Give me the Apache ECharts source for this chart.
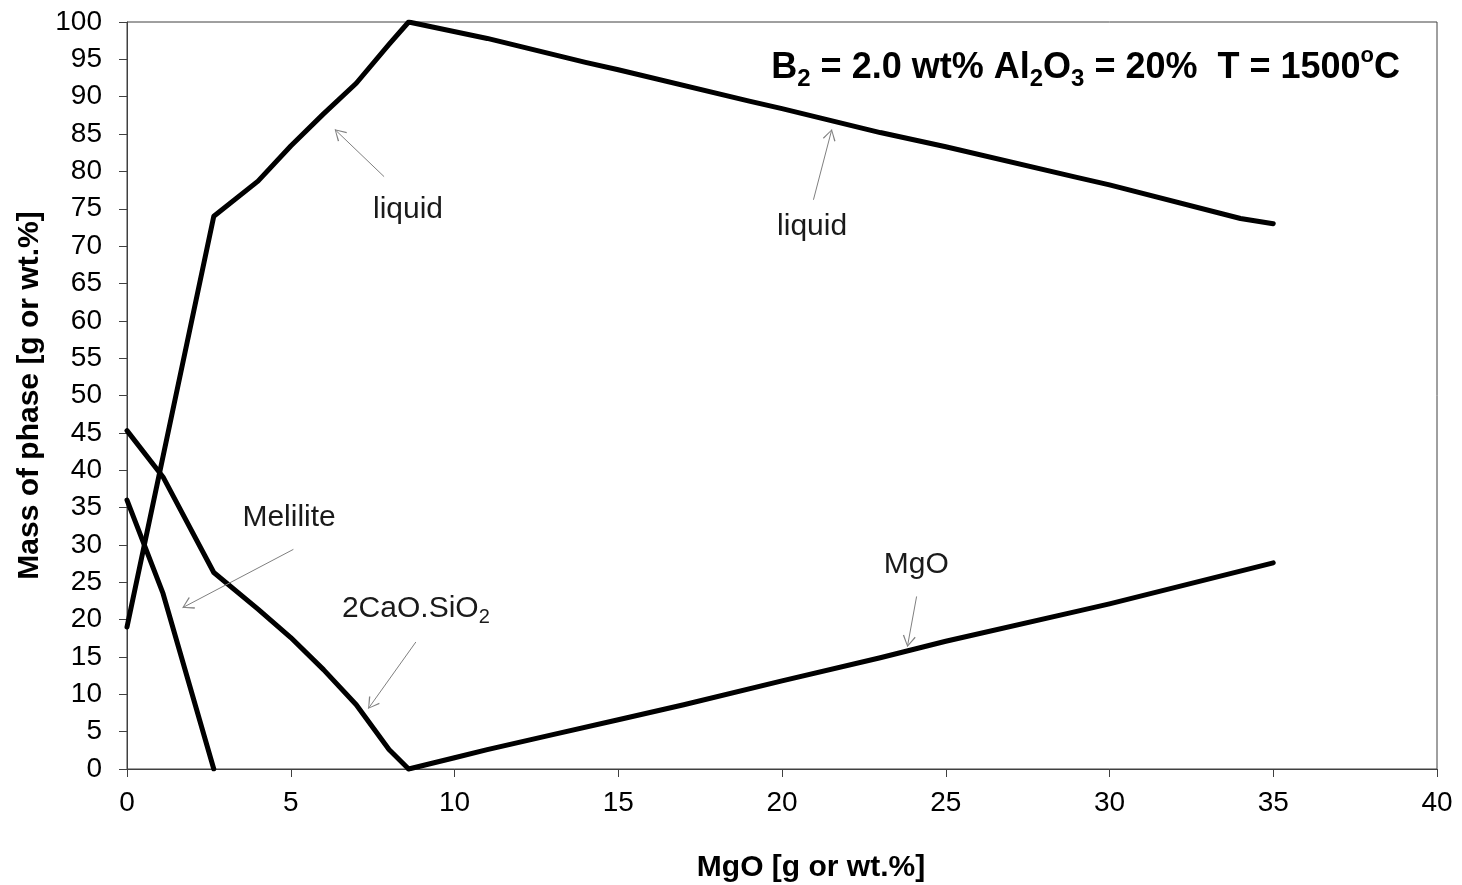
<!DOCTYPE html>
<html><head><meta charset="utf-8">
<script src="https://cdn.jsdelivr.net/npm/echarts@6/dist/echarts.min.js"></script>
<style>html,body{margin:0;padding:0;background:#fff}#c{width:1462px;height:885px}</style>
</head><body><div id="c"></div>
<script>
// ---- data ----
const liquidX = [0, 2.65, 4, 5, 6, 7, 8, 8.6, 11, 14, 15, 19, 20, 23, 25, 29, 30, 34, 35];
const liquidY = [19, 74, 78.7, 83.4, 87.7, 91.8, 97.0, 100, 97.8, 94.6, 93.6, 89.4, 88.4, 85.2, 83.3, 79.2, 78.2, 73.7, 73];
const meliliteX = [0, 1.1, 2.65];
const meliliteY = [36, 23.5, 0];
const c2sX = [0, 1.1, 2.65, 4, 5, 6, 7, 8, 8.6];
const c2sY = [45.3, 39.1, 26.3, 21.4, 17.6, 13.3, 8.6, 2.6, 0];
const mgoX = [8.6, 10, 11, 13, 15, 17, 20, 23, 25, 29, 30, 35];
const mgoY = [0, 1.5, 2.6, 4.6, 6.6, 8.6, 11.8, 14.9, 17.1, 21.1, 22.1, 27.6];

const xMin = 0, xMax = 40, xStep = 5;
const yMin = 0, yMax = 100, yStep = 5;

const titleText = 'B{sub|2} = 2.0 wt% Al{sub|2}O{sub|3} = 20%  T = 1500{sup|o}C';
const xName = 'MgO [g or wt.%]';
const yName = 'Mass of phase [g or wt.%]';

// annotation labels and arrows (data coordinates)
const labelTexts = ['liquid', 'liquid', 'Melilite', '2CaO.SiO{s|2}', 'MgO'];
const labelX = [8.58, 20.92, 4.95, 8.82, 24.1];
const labelY = [74.9, 72.6, 33.6, 21.5, 27.3];
const arrowFromX = [7.85, 20.96, 5.08, 8.82, 24.11];
const arrowFromY = [79.3, 76.2, 29.4, 17.0, 23.1];
const arrowToX = [6.35, 21.52, 1.70, 7.37, 23.83];
const arrowToY = [85.6, 85.6, 21.6, 8.1, 16.4];

// ---- chart ----
const zip = (xs, ys) => xs.map((x, i) => [x, ys[i]]);
const AXIS = '#404040';
const FONT = '"Liberation Sans", Arial, sans-serif';
const TXT = '#1a1a1a';
const chevron = 'path://M0,-10L0.01,-10L0,-9.99Z M0,0 L6,10 L5,10.8 L0,1.6 L-5,10.8 L-6,10 Z';

const lineSeries = (name, xs, ys) => ({
  name, type: 'line', data: zip(xs, ys), showSymbol: false, symbol: 'none',
  lineStyle: { color: '#000', width: 5, cap: 'round', join: 'round' }, z: 3
});

const chart = echarts.init(document.getElementById('c'), null, { renderer: 'canvas' });
chart.setOption({
  animation: false,
  backgroundColor: '#fff',
  title: {
    text: titleText, right: 57, top: 40,
    textStyle: {
      rich: {
        sub: { fontSize: 24, fontWeight: 'bold', fontFamily: FONT, color: '#000', verticalAlign: 'bottom', lineHeight: 24 },
        sup: { fontSize: 22, fontWeight: 'bold', fontFamily: FONT, color: '#000', verticalAlign: 'top', lineHeight: 22 }
      },
      fontSize: 36, fontWeight: 'bold', fontFamily: FONT, color: '#000', lineHeight: 46
    }
  },
  grid: { left: 127, top: 22, right: 25, bottom: 116, show: true, borderColor: AXIS, borderWidth: 1,
          containLabel: false, outerBoundsMode: 'none' },
  xAxis: {
    type: 'value', min: xMin, max: xMax, interval: xStep,
    name: xName, nameLocation: 'middle', nameGap: 84,
    nameTextStyle: { fontFamily: FONT, fontWeight: 'bold', fontSize: 30, color: '#000', padding: [0, 0, 0, 58] },
    axisLine: { show: true, lineStyle: { color: AXIS, width: 1 } },
    axisTick: { show: true, inside: false, length: 8, lineStyle: { color: AXIS } },
    axisLabel: { fontFamily: FONT, fontSize: 28, color: '#000', margin: 20 },
    splitLine: { show: false }
  },
  yAxis: {
    type: 'value', min: yMin, max: yMax, interval: yStep,
    name: yName, nameLocation: 'middle', nameGap: 81, nameRotate: 90,
    nameTextStyle: { fontFamily: FONT, fontWeight: 'bold', fontSize: 30, color: '#000' },
    axisLine: { show: true, lineStyle: { color: AXIS, width: 1 } },
    axisTick: { show: true, inside: false, length: 8, lineStyle: { color: AXIS } },
    axisLabel: { fontFamily: FONT, fontSize: 28, color: '#000', margin: 25 },
    splitLine: { show: false }
  },
  series: [
    lineSeries('liquid', liquidX, liquidY),
    lineSeries('Melilite', meliliteX, meliliteY),
    lineSeries('2CaO.SiO2', c2sX, c2sY),
    lineSeries('MgO', mgoX, mgoY),
    {
      name: 'annotations', type: 'scatter', symbolSize: 0, silent: true, z: 4,
      itemStyle: { opacity: 1 },
      data: labelTexts.map((t, i) => ({ value: [labelX[i], labelY[i]], label: { formatter: t } })),
      label: {
        show: true, position: 'inside', color: TXT, opacity: 1, fontFamily: FONT, fontSize: 30,
        rich: { s: { fontSize: 20, fontFamily: FONT, color: TXT, verticalAlign: 'bottom', lineHeight: 20 } },
        lineHeight: 38
      },
      markLine: {
        silent: true, animation: false,
        symbol: ['none', chevron], symbolSize: [13, 22],
        lineStyle: { color: '#808080', width: 1, type: 'solid' },
        label: { show: false },
        data: arrowFromX.map((x, i) => [
          { coord: [x, arrowFromY[i]] },
          { coord: [arrowToX[i], arrowToY[i]] }
        ])
      }
    }
  ]
});
</script>
</body></html>
